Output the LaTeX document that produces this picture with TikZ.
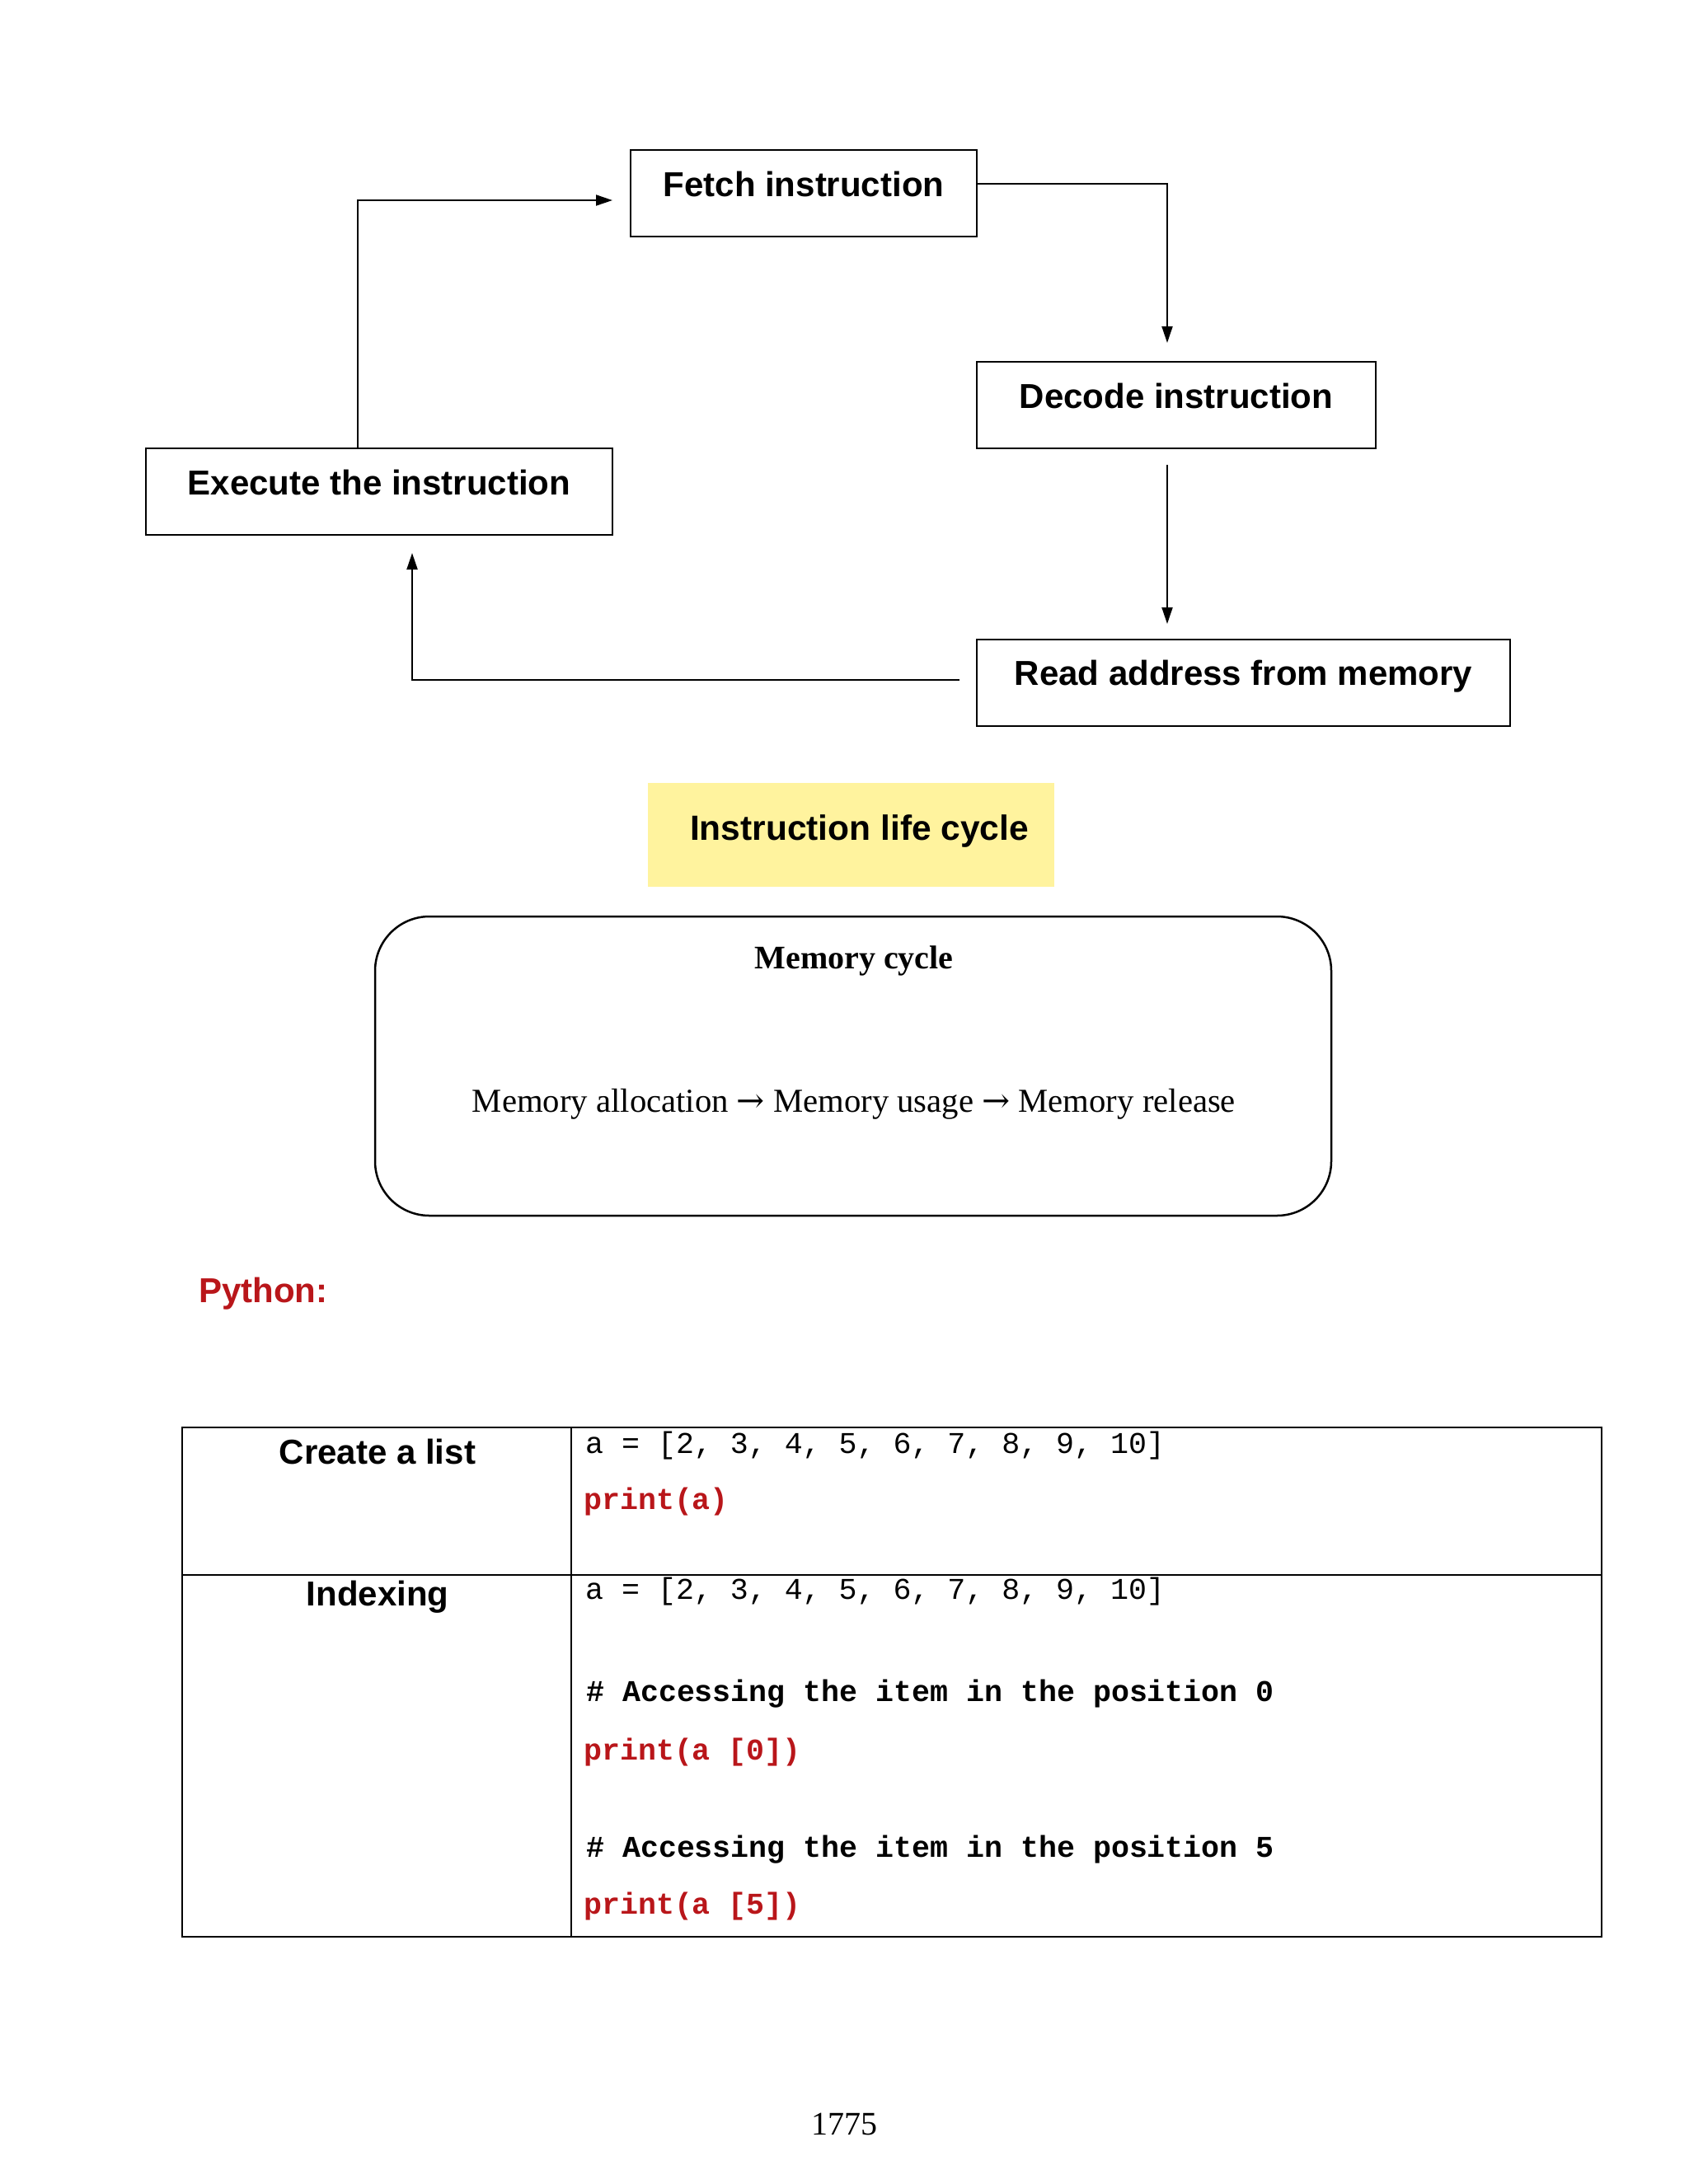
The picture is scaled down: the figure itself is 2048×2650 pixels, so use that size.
\documentclass[tikz,border=0pt]{standalone}
\usepackage{fontspec}
\setmainfont{Liberation Serif}
\setsansfont{Liberation Sans}
\setmonofont{Liberation Mono}
\newfontfamily\arrowfont{DejaVu Serif}
\usetikzlibrary{arrows.meta}
\definecolor{codered}{RGB}{185,22,26}
\definecolor{hlyellow}{RGB}{255,243,158}
\newcommand{\rarr}{{\arrowfont →}}
\begin{document}
\begin{tikzpicture}[x=1pt,y=-1pt,
  box/.style={draw, line width=2pt, inner sep=0pt, text height=56pt, text depth=49pt,
    font=\fontsize{42}{50}\selectfont\sffamily\bfseries},
  arr/.style={line width=2pt, -{Triangle[length=20pt,width=13pt]}},
  lbl/.style={inner sep=0pt, font=\fontsize{42}{50}\selectfont\sffamily\bfseries},
  code/.style={anchor=west, inner sep=0pt, font=\fontsize{36.6}{44}\selectfont\ttfamily},
  codeb/.style={code, font=\fontsize{36.6}{44}\selectfont\ttfamily\bfseries},
  codered/.style={codeb, text=codered},
  tline/.style={line width=2pt}]
\useasboundingbox[fill=white] (0,0) rectangle (2048,2650);

% flow boxes
\node[box, minimum width=420pt] (fetch) at (975,234.5) {Fetch instruction};
\node[box, minimum width=484pt] (decode) at (1427,491.5) {Decode instruction};
\node[box, minimum width=566pt] (exec) at (460,596.5) {Execute the instruction};
\node[box, minimum width=647pt] (read) at (1508.5,828) {Read address from memory};

% connector ends
\coordinate (f-out) at (1185,223);
\coordinate (d-in) at (1416,416);
\coordinate (d-out) at (1416,564);
\coordinate (r-in) at (1416,757);
\coordinate (r-out) at (1164,825);
\coordinate (e-in) at (500,671);
\coordinate (e-out) at (434,544);
\coordinate (f-in) at (743,243);

\draw[arr] (f-out) -| (d-in);
\draw[arr] (d-out) -- (r-in);
\draw[arr] (r-out) -| (e-in);
\draw[arr] (e-out) |- (f-in);

% highlight title
\node[fill=hlyellow, inner sep=0pt, minimum width=493pt, text height=69pt, text depth=57pt,
  font=\fontsize{42.5}{50}\selectfont\sffamily\bfseries] (title) at (1032.5,1013)
  {\hspace*{20pt}Instruction life cycle};

% memory cycle box
\node[draw, line width=2.5pt, rounded corners=66pt, minimum width=1160pt, minimum height=363pt, inner sep=0pt] (mem) at (1035,1293.5) {};
\node[inner sep=0pt, font=\fontsize{40}{48}\selectfont\bfseries] (memt) at (1036,1166) {Memory cycle};
\node[inner sep=0pt, font=\fontsize{40.7}{48}\selectfont] (memf) at (1036,1340) {Memory allocation \rarr{} Memory usage \rarr{} Memory release};

% Python label
\node[lbl, anchor=west, text=codered] (py) at (241,1570) {Python:};

% table
\draw[tline] (221,1732) rectangle (1943,2350);
\draw[tline] (221,1911) -- (1943,1911);
\draw[line width=1.6pt] (693,1732) -- (693,2350);

\node[lbl] (c1) at (458,1761) {Create a list};
\node[lbl] (c2) at (458,1938) {Indexing};

\node[code] (l1) at (710,1754) {a = [2, 3, 4, 5, 6, 7, 8, 9, 10]};
\node[codered] (l2) at (708,1822) {print(a)};
\node[code] (l3) at (710,1931) {a = [2, 3, 4, 5, 6, 7, 8, 9, 10]};
\node[codeb] (l4) at (711,2055) {\# Accessing the item in the position 0};
\node[codered] (l5) at (708,2126) {print(a [0])};
\node[codeb] (l6) at (711,2244) {\# Accessing the item in the position 5};
\node[codered] (l7) at (708,2313) {print(a [5])};

% page number
\node[inner sep=0pt, font=\fontsize{40}{48}\selectfont] (pg) at (1024,2577) {1775};
\end{tikzpicture}
\end{document}
